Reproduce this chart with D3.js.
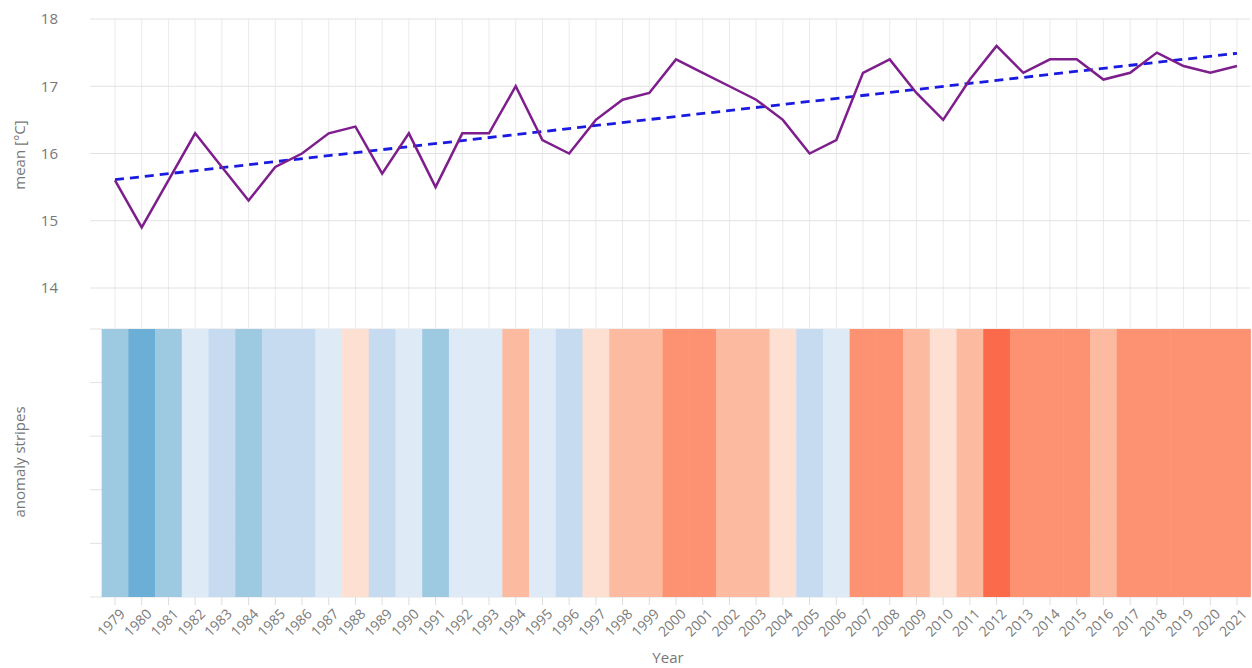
<!DOCTYPE html>
<html><head><meta charset="utf-8">
<script src="https://cdn.jsdelivr.net/npm/d3@7"></script>
<style>
html,body{margin:0;padding:0;background:#fff;}
svg{display:block;font-family:"Open Sans","Lato",sans-serif;}
</style></head>
<body><svg id="c" width="1252" height="668"></svg>
<script>
const years = d3.range(1979, 2022);
const meanTemp = [15.6,14.9,15.6,16.3,15.8,15.3,15.8,16.0,16.3,16.4,15.7,16.3,15.5,16.3,16.3,17.0,16.2,16.0,16.5,16.8,16.9,17.4,17.2,17.0,16.8,16.5,16.0,16.2,17.2,17.4,16.9,16.5,17.1,17.6,17.2,17.4,17.4,17.1,17.2,17.5,17.3,17.2,17.3];
const anomaly = [-0.6,-0.9,-0.6,-0.1,-0.35,-0.6,-0.35,-0.3,-0.1,0.1,-0.35,-0.15,-0.6,-0.15,-0.1,0.4,-0.1,-0.3,0.1,0.35,0.4,0.6,0.55,0.4,0.35,0.15,-0.3,-0.1,0.6,0.65,0.35,0.1,0.4,0.85,0.6,0.65,0.6,0.4,0.6,0.65,0.6,0.6,0.6];
const trendYears = [1979, 2021];
const trendValues = [15.61, 17.49];
const yTicks = [14, 15, 16, 17, 18];
const anomalyThresholds = [-0.75,-0.5,-0.25,0,0.25,0.5,0.75];
const anomalyColors = ["#6baed6","#9ecae1","#c6dbef","#deebf7","#fee0d2","#fcbba1","#fc9272","#fb6a4a"];

const svg = d3.select("#c");
const L = 90, R = 1250;
const topT = 19, topB = 328;
const stT = 329, stB = 597;

const x = d3.scaleLinear().domain([1979, 2021]).range([115, 1237]);
const step = x(1980) - x(1979);
const y = d3.scaleLinear().domain([14, 18]).range([288, 19]);
const ys = d3.scaleLinear().domain([0, 5]).range([stB, stT]);
const color = d3.scaleThreshold().domain(anomalyThresholds).range(anomalyColors);

const grid = svg.append("g");
grid.selectAll("line.v").data(years).join("line")
  .attr("x1", d => x(d)).attr("x2", d => x(d))
  .attr("y1", topT).attr("y2", topB)
  .attr("stroke", "#ebebeb").attr("stroke-width", 1);
grid.selectAll("line.h").data(yTicks).join("line")
  .attr("x1", L).attr("x2", R)
  .attr("y1", d => y(d)).attr("y2", d => y(d))
  .attr("stroke", "#e2e2e2").attr("stroke-width", 1);
svg.append("g").selectAll("line").data(d3.range(0, 6)).join("line")
  .attr("x1", L).attr("x2", R)
  .attr("y1", d => ys(d)).attr("y2", d => ys(d))
  .attr("stroke", "#e2e2e2").attr("stroke-width", 1);

svg.append("g").selectAll("text").data(yTicks).join("text")
  .attr("x", 58).attr("y", d => y(d)).attr("dy", "0.35em")
  .attr("text-anchor", "end").attr("font-size", 15).attr("fill", "#777")
  .text(d => d);

svg.append("g").selectAll("rect").data(years).join("rect")
  .attr("x", d => x(d) - step / 2).attr("width", step + 0.5)
  .attr("y", stT).attr("height", stB - stT)
  .attr("fill", (d, i) => color(anomaly[i]));

const ax = svg.append("g");
ax.selectAll("line").data(years).join("line")
  .attr("x1", d => x(d)).attr("x2", d => x(d))
  .attr("y1", stB).attr("y2", stB + 8)
  .attr("stroke", "#ddd");
ax.selectAll("text").data(years).join("text")
  .attr("transform", d => `translate(${x(d) + 4},${stB + 11}) rotate(-45)`)
  .attr("text-anchor", "end").attr("dy", "0.7em")
  .attr("font-size", 14).attr("fill", "#7a7a7a")
  .text(d => d);

svg.append("path")
  .datum(trendYears.map((t, i) => [t, trendValues[i]]))
  .attr("d", d3.line().x(d => x(d[0])).y(d => y(d[1])))
  .attr("fill", "none").attr("stroke", "#1a1ae0").attr("stroke-width", 2.8)
  .attr("stroke-dasharray", "9,6");

svg.append("path")
  .datum(years.map((t, i) => [t, meanTemp[i]]))
  .attr("d", d3.line().x(d => x(d[0])).y(d => y(d[1])))
  .attr("fill", "none").attr("stroke", "#7e1e8c").attr("stroke-width", 2.5)
  .attr("stroke-linejoin", "miter");

svg.append("text").attr("transform", "translate(25,155) rotate(-90)")
  .attr("text-anchor", "middle").attr("font-size", 15).attr("fill", "#777")
  .text("mean [°C]");
svg.append("text").attr("transform", "translate(25,462) rotate(-90)")
  .attr("text-anchor", "middle").attr("font-size", 15).attr("fill", "#777")
  .text("anomaly stripes");
svg.append("text").attr("x", 668).attr("y", 663)
  .attr("text-anchor", "middle").attr("font-size", 15).attr("fill", "#777")
  .text("Year");
</script></body></html>
